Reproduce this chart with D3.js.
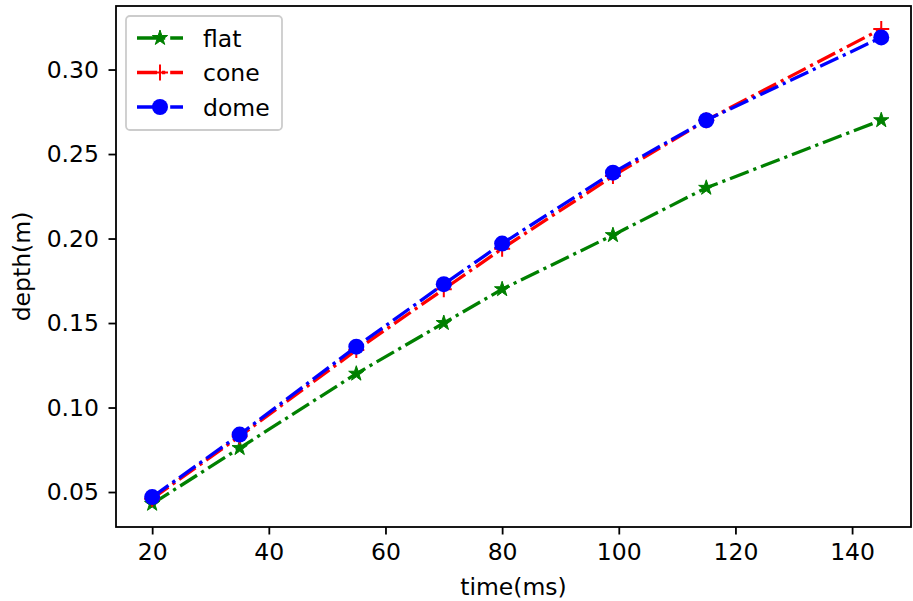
<!DOCTYPE html>
<html>
<head>
<meta charset="utf-8">
<script src="https://cdn.jsdelivr.net/npm/d3@7"></script>
<style>
  body { margin: 0; background: #fff; }
  svg text { font-family: "DejaVu Sans", sans-serif; }
</style>
</head>
<body>
<svg id="chart" width="913" height="601"></svg>
<script>
// data
var times = [20, 35, 55, 70, 80, 99, 115, 145];
var flat = [0.043, 0.076, 0.120, 0.150, 0.170, 0.202, 0.230, 0.270];
var cone = [0.046, 0.083, 0.134, 0.170, 0.194, 0.237, 0.270, 0.324];
var dome = [0.047, 0.084, 0.136, 0.173, 0.197, 0.239, 0.270, 0.319];
var xTicks = [20, 40, 60, 80, 100, 120, 140];
var yTicks = [0.05, 0.10, 0.15, 0.20, 0.25, 0.30];

// plot area (note: "top" is taken by window.top)
var plotLeft = 116, plotRight = 911, plotTop = 6, plotBottom = 527;
var fontSize = 23.5;

var svg = d3.select('#chart');

var x = d3.scaleLinear()
    .domain([13.8, 150.1])
    .range([plotLeft, plotRight]);

var y = d3.scaleLinear()
    .domain([0.0293, 0.3376])
    .range([plotBottom, plotTop]);

var series = [
    {name: "flat", values: flat, color: "green", marker: "star"},
    {name: "cone", values: cone, color: "red", marker: "plus"},
    {name: "dome", values: dome, color: "blue", marker: "circle"}
];

var dash = "20,5,3.2,5";

function drawMarker(g, type, color, cx, cy) {
    if (type == "circle") {
        g.append("circle")
            .attr("cx", cx).attr("cy", cy).attr("r", 8)
            .attr("fill", color);
    } else if (type == "star") {
        g.append("path")
            .attr("d", d3.symbol().type(d3.symbolStar).size(72)())
            .attr("transform", "translate(" + cx + "," + cy + ")")
            .attr("fill", color)
            .attr("stroke", color)
            .attr("stroke-width", 1);
    } else {
        g.append("path")
            .attr("d", "M-8,0H8M0,-8V8")
            .attr("transform", "translate(" + cx + "," + cy + ")")
            .attr("fill", "none")
            .attr("stroke", color)
            .attr("stroke-width", 2);
    }
}

// lines + markers
var plot = svg.append("g");
series.forEach(s => {
    var pts = times.map((t, i) => [t, s.values[i]]);
    var line = d3.line()
        .x(d => x(d[0]))
        .y(d => y(d[1]));
    plot.append("path")
        .datum(pts)
        .attr("d", line)
        .attr("fill", "none")
        .attr("stroke", s.color)
        .attr("stroke-width", 3.3)
        .attr("stroke-dasharray", dash);
    pts.forEach(p => drawMarker(plot, s.marker, s.color, x(p[0]), y(p[1])));
});

// axes
const xAxis = d3.axisBottom(x).tickValues(xTicks).tickSize(7.5).tickPadding(8.5);
const yAxis = d3.axisLeft(y).tickValues(yTicks).tickFormat(d3.format(".2f")).tickSize(7.5).tickPadding(9.5);

var gx = svg.append('g')
    .attr("transform", "translate(0," + plotBottom + ")")
    .call(xAxis);
var gy = svg.append('g')
    .attr("transform", "translate(" + plotLeft + ",0)")
    .call(yAxis);

[gx, gy].forEach(g => {
    g.select(".domain").remove();
    g.selectAll(".tick line").attr("stroke", "#000").attr("stroke-width", 1.8);
    g.selectAll(".tick text").attr("fill", "#000")
        .style("font-size", fontSize + "px")
        .style("font-family", "DejaVu Sans");
});

// frame
svg.append("rect")
    .attr("x", plotLeft).attr("y", plotTop)
    .attr("width", plotRight - plotLeft).attr("height", plotBottom - plotTop)
    .attr("fill", "none")
    .attr("stroke", "#000")
    .attr("stroke-width", 1.8);

// axis labels
svg.append("text")
    .text("time(ms)")
    .attr("x", (plotLeft + plotRight) / 2)
    .attr("y", 595)
    .attr("text-anchor", "middle")
    .style("font-size", fontSize + "px");

svg.append("text")
    .text("depth(m)")
    .attr("transform", "translate(30," + (plotTop + plotBottom) / 2 + ") rotate(-90)")
    .attr("text-anchor", "middle")
    .style("font-size", fontSize + "px");

// legend
var legend = svg.append("g");
legend.append("rect")
    .attr("x", 126).attr("y", 16)
    .attr("width", 156).attr("height", 114)
    .attr("rx", 4)
    .attr("fill", "#fff")
    .attr("fill-opacity", 0.8)
    .attr("stroke", "#ccc")
    .attr("stroke-width", 1.8);

var rowY = 38;
series.forEach(s => {
    legend.append("line")
        .attr("x1", 137).attr("x2", 183)
        .attr("y1", rowY).attr("y2", rowY)
        .attr("stroke", s.color)
        .attr("stroke-width", 3.3)
        .attr("stroke-dasharray", dash);
    drawMarker(legend, s.marker, s.color, 160, rowY);
    legend.append("text")
        .text(s.name)
        .attr("x", 203)
        .attr("y", rowY + 8.5)
        .style("font-size", fontSize + "px");
    rowY += 34.5;
});
</script>
</body>
</html>
